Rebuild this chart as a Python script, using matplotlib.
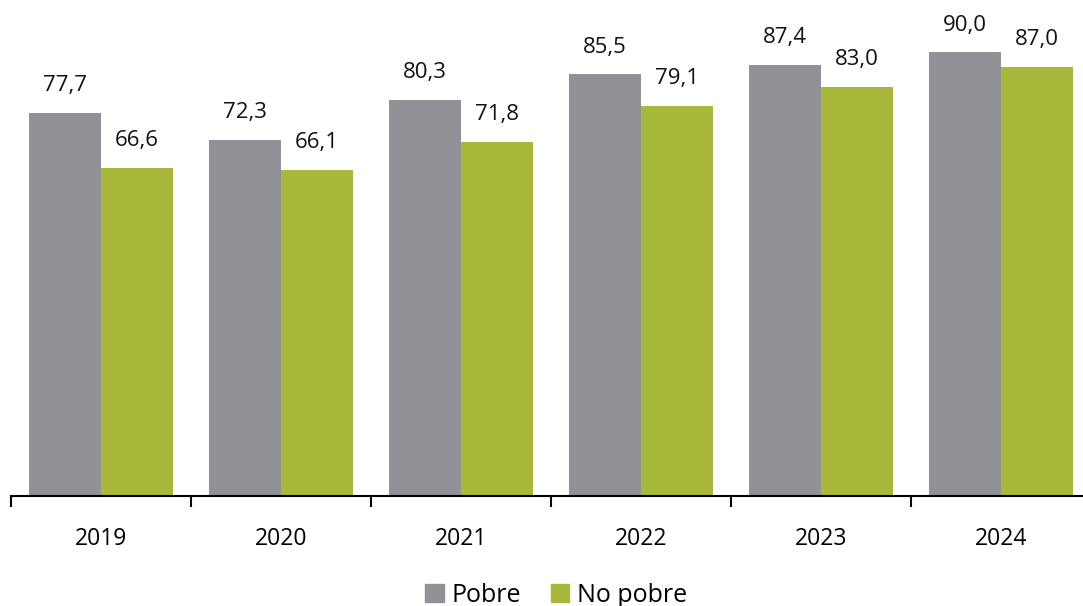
import numpy as np
import matplotlib.pyplot as plt
from matplotlib.patches import Patch

years = ["2019", "2020", "2021", "2022", "2023", "2024"]
pobre = [77.7, 72.3, 80.3, 85.5, 87.4, 90.0]
no_pobre = [66.6, 66.1, 71.8, 79.1, 83.0, 87.0]

grey = "#919297"
green = "#a8b83a"

plt.rcParams['font.family'] = ['Open Sans', 'DejaVu Sans']

fig = plt.figure(figsize=(10.83, 6.06), dpi=100)
# axes run a bit past the right edge, like in the original
ax = fig.add_axes([11 / 1083, 110 / 606, 1080 / 1083, 493 / 606])

x = np.arange(len(years))
w = 0.4
b1 = ax.bar(x - w / 2, pobre, w, color=grey)
b2 = ax.bar(x + w / 2, no_pobre, w, color=green)

def fmt(v):
    return f"{v:.1f}".replace(".", ",")

for bars, vals in ((b1, pobre), (b2, no_pobre)):
    for r, v in zip(bars, vals):
        ax.annotate(fmt(v), (r.get_x() + r.get_width() / 2, v),
                    xytext=(0, 12), textcoords="offset points",
                    ha="center", va="bottom", fontsize=16, color="#111111")

ax.set_xlim(-0.5, len(years) - 0.5)
ax.set_ylim(0, 100)
for s in ["top", "right", "left"]:
    ax.spines[s].set_visible(False)
ax.spines["bottom"].set_linewidth(1.5)
ax.set_yticks([])
ax.set_xticks(x)
ax.set_xticklabels(years, fontsize=16.5)
ax.tick_params(axis="x", which="major", length=0, pad=22)
ax.set_xticks(np.arange(-0.5, len(years)), minor=True)
ax.tick_params(axis="x", which="minor", length=8, width=1.5, direction="out")

handles = [Patch(color=grey, label="Pobre"), Patch(color=green, label="No pobre")]
fig.legend(handles=handles, loc="center", bbox_to_anchor=(556 / 1083, 11 / 606), ncol=2,
           frameon=False, fontsize=18, handlelength=0.75, handleheight=0.75,
           handletextpad=0.3, columnspacing=1.2)

fig.savefig("out.png", dpi=100)
